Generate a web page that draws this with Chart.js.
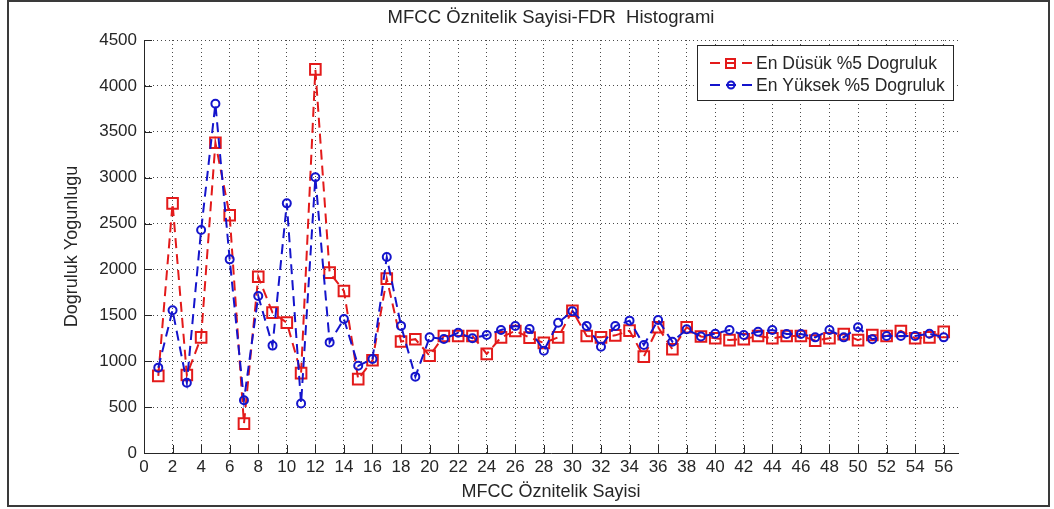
<!DOCTYPE html>
<html>
<head>
<meta charset="utf-8">
<title>MFCC Öznitelik Sayisi-FDR Histogrami</title>
<script src="https://cdn.jsdelivr.net/npm/chart.js@4.4.1/dist/chart.umd.min.js"></script>
<style>
  html, body { margin: 0; padding: 0; background: #ffffff; }
  #wrap { position: relative; width: 1054px; height: 509px; }
  canvas { display: block; }
</style>
</head>
<body>
<div id="wrap"><canvas id="chart" width="1054" height="509"></canvas></div>
<script>
// Number of MFCC features (x values)
const featureCounts = [1, 2, 3, 4, 5, 6, 7, 8, 9, 10, 11, 12, 13, 14, 15, 16, 17, 18, 19, 20,
  21, 22, 23, 24, 25, 26, 27, 28, 29, 30, 31, 32, 33, 34, 35, 36, 37, 38, 39, 40,
  41, 42, 43, 44, 45, 46, 47, 48, 49, 50, 51, 52, 53, 54, 55, 56];

// Accuracy density for the lowest 5% accuracy runs
const lowest5 = [840, 2720, 850, 1260, 3380, 2590, 320, 1920, 1530, 1420,
  870, 4180, 1965, 1765, 805, 1010, 1900, 1215, 1240, 1060,
  1275, 1275, 1275, 1080, 1260, 1330, 1257, 1200, 1260, 1550,
  1275, 1260, 1282, 1333, 1050, 1370, 1130, 1370, 1270, 1250,
  1230, 1240, 1275, 1250, 1275, 1275, 1225, 1250, 1295, 1230,
  1285, 1275, 1330, 1250, 1260, 1320];

// Accuracy density for the highest 5% accuracy runs
const highest5 = [930, 1555, 765, 2430, 3805, 2110, 575, 1710, 1170, 2720,
  540, 3005, 1205, 1460, 950, 1025, 2135, 1385, 832, 1260,
  1242, 1310, 1250, 1285, 1340, 1384, 1350, 1115, 1420, 1545,
  1384, 1158, 1384, 1442, 1177, 1449, 1213, 1348, 1270, 1300,
  1340, 1286, 1320, 1340, 1297, 1297, 1260, 1340, 1260, 1370,
  1240, 1275, 1275, 1275, 1300, 1260];

// Tick values
const xTickValues = [0, 2, 4, 6, 8, 10, 12, 14, 16, 18, 20, 22, 24, 26, 28,
  30, 32, 34, 36, 38, 40, 42, 44, 46, 48, 50, 52, 54, 56];
const yTickValues = [0, 500, 1000, 1500, 2000, 2500, 3000, 3500, 4000, 4500];

const seriesNames = ['En Düsük %5 Dogruluk', 'En Yüksek %5 Dogruluk'];
const chartTitle = 'MFCC Öznitelik Sayisi-FDR  Histogrami';

const RED = '#e31a1a';
const BLUE = '#1414cc';
const TEXT = '#262626';
const FONT = "'Liberation Sans', Arial, Helvetica, sans-serif";
const DASH = [10, 6];

function toPoints(values) {
  return featureCounts.map((x, i) => ({ x: x, y: values[i] }));
}

// Figure frame, title over the axes, inward tick marks and the in-axes legend
const decorations = {
  id: 'decorations',
  beforeDraw(chart) {
    const ctx = chart.ctx;
    const area = chart.chartArea;
    ctx.save();
    ctx.fillStyle = '#ffffff';
    ctx.fillRect(0, 0, chart.width, chart.height);
    ctx.strokeStyle = '#3a3a3a';
    ctx.lineWidth = 2;
    ctx.strokeRect(8, 1, 1041, 505);
    ctx.fillStyle = TEXT;
    ctx.font = '18.5px ' + FONT;
    ctx.textAlign = 'center';
    ctx.textBaseline = 'middle';
    ctx.fillText(chartTitle, (area.left + area.right) / 2, 18);
    ctx.restore();
  },
  afterDatasetsDraw(chart) {
    const ctx = chart.ctx;
    const area = chart.chartArea;
    const xs = chart.scales.x, ys = chart.scales.y;
    ctx.save();
    ctx.strokeStyle = '#262626';
    ctx.lineWidth = 1;
    ctx.setLineDash([]);
    const tl = 8;
    xTickValues.forEach(v => {
      const px = Math.round(xs.getPixelForValue(v)) + 0.5;
      ctx.beginPath();
      ctx.moveTo(px, area.bottom);
      ctx.lineTo(px, area.bottom - tl);
      ctx.stroke();
    });
    yTickValues.forEach(v => {
      const py = Math.round(ys.getPixelForValue(v)) + 0.5;
      ctx.beginPath();
      ctx.moveTo(area.left, py);
      ctx.lineTo(area.left + tl, py);
      ctx.stroke();
    });

    // legend
    const bx = 697, by = 45, bw = 256, bh = 55;
    ctx.fillStyle = '#ffffff';
    ctx.fillRect(bx, by, bw, bh);
    ctx.strokeStyle = '#262626';
    ctx.lineWidth = 1;
    ctx.strokeRect(bx + 0.5, by + 0.5, bw, bh);
    chart.data.datasets.forEach((ds, i) => {
      const cy = by + 18 + i * 22;
      ctx.strokeStyle = ds.borderColor;
      ctx.lineWidth = 2;
      ctx.setLineDash(DASH);
      ctx.beginPath();
      ctx.moveTo(710, cy);
      ctx.lineTo(752, cy);
      ctx.stroke();
      ctx.setLineDash([]);
      ctx.beginPath();
      if (ds.pointStyle === 'rect') {
        ctx.rect(726, cy - 4, 9, 9);
      } else {
        ctx.arc(731, cy, 3.5, 0, Math.PI * 2);
      }
      ctx.stroke();
      ctx.fillStyle = TEXT;
      ctx.font = '17.5px ' + FONT;
      ctx.textAlign = 'left';
      ctx.textBaseline = 'middle';
      ctx.fillText(ds.label, 756, cy + 1);
    });
    ctx.restore();
  }
};

new Chart(document.getElementById('chart'), {
  type: 'line',
  data: {
    datasets: [
      {
        label: seriesNames[0],
        data: toPoints(lowest5),
        borderColor: RED,
        borderWidth: 2,
        borderDash: DASH,
        pointStyle: 'rect',
        pointRadius: 7.5,
        pointBorderWidth: 2,
        pointBorderColor: RED,
        pointBackgroundColor: 'rgba(0,0,0,0)',
        tension: 0,
        order: 1
      },
      {
        label: seriesNames[1],
        data: toPoints(highest5),
        borderColor: BLUE,
        borderWidth: 2,
        borderDash: DASH,
        pointStyle: 'circle',
        pointRadius: 4,
        pointBorderWidth: 2,
        pointBorderColor: BLUE,
        pointBackgroundColor: 'rgba(0,0,0,0)',
        tension: 0,
        order: 0
      }
    ]
  },
  options: {
    responsive: false,
    animation: false,
    devicePixelRatio: 1,
    layout: { padding: { left: 0, right: 96, top: 40, bottom: 0 } },
    plugins: {
      legend: { display: false },
      tooltip: { enabled: false },
      title: { display: false }
    },
    scales: {
      x: {
        type: 'linear',
        min: 0,
        max: 57,
        afterBuildTicks: s => { s.ticks = xTickValues.map(v => ({ value: v })); },
        afterFit: s => { s.height = 56; },
        ticks: {
          color: TEXT,
          font: { family: FONT, size: 17, lineHeight: 1.2 },
          padding: 4,
          maxRotation: 0,
          autoSkip: false,
          callback: v => String(v)
        },
        grid: {
          drawTicks: false,
          color: '#4a4a4a',
          lineWidth: 1
        },
        // border.dash sets the dotted pattern of the grid lines
        border: { display: true, color: '#262626', width: 1, dash: [1, 3] },
        title: {
          display: true,
          text: 'MFCC Öznitelik Sayisi',
          color: TEXT,
          font: { family: FONT, size: 18, lineHeight: 1.2 },
          padding: { top: 0, bottom: 6 }
        }
      },
      y: {
        type: 'linear',
        min: 0,
        max: 4500,
        afterBuildTicks: s => { s.ticks = yTickValues.map(v => ({ value: v })); },
        afterFit: s => { s.width = 144; },
        ticks: {
          color: TEXT,
          font: { family: FONT, size: 17, lineHeight: 1.2 },
          padding: 7,
          callback: v => String(v)
        },
        grid: {
          drawTicks: false,
          color: '#4a4a4a',
          lineWidth: 1
        },
        border: { display: true, color: '#262626', width: 1, dash: [1, 3] },
        title: {
          display: true,
          text: 'Dogruluk Yogunlugu',
          color: TEXT,
          font: { family: FONT, size: 18, lineHeight: 1.2 },
          padding: { top: 61.2, bottom: 0 }
        }
      }
    }
  },
  plugins: [decorations]
});
</script>
</body>
</html>
